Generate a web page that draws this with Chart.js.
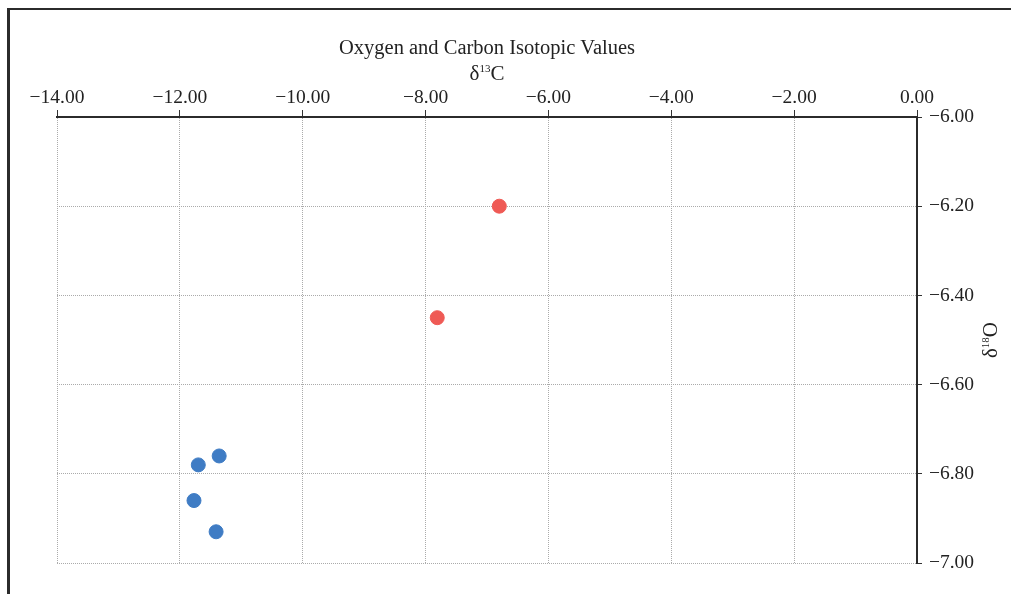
<!DOCTYPE html>
<html>
<head>
<meta charset="utf-8">
<script src="https://cdn.jsdelivr.net/npm/chart.js@4/dist/chart.umd.min.js"></script>
<style>
  html, body { margin: 0; padding: 0; background: #fff; overflow: hidden; }
  #wrap { position: relative; width: 1011px; height: 594px; }
  #frame {
    position: absolute; left: 7px; top: 8px; width: 1100px; height: 700px;
    border-left: 3px solid #2b2b2b; border-top: 2px solid #2b2b2b;
    pointer-events: none;
  }
  canvas { position: absolute; left: 0; top: 0; }
</style>
</head>
<body>
<div id="wrap">
  <canvas id="chart" width="1011" height="594"></canvas>
  <div id="frame"></div>
</div>
<script>
// 데이터
const redX = [-6.80, -7.81];
const redY = [-6.20, -6.45];
const blueX = [-11.36, -11.70, -11.77, -11.41];
const blueY = [-6.76, -6.78, -6.86, -6.93];

const xTicks = [-14, -12, -10, -8, -6, -4, -2, 0];
const yTicks = [-6.0, -6.2, -6.4, -6.6, -6.8, -7.0];

const chartTitle = 'Oxygen and Carbon Isotopic Values';
const serif = "'Liberation Serif', 'DejaVu Serif', serif";

const fmt = (v) => {
  const s = Math.abs(v).toFixed(2);
  return v < -1e-9 ? '\u2212' + s : s;
};

const toPoints = (xs, ys) => xs.map((x, i) => ({ x, y: ys[i] }));

// 축 제목 (위첨자 포함)
function drawSupLabel(ctx, parts, cx, cy, angle) {
  ctx.save();
  ctx.translate(cx, cy);
  ctx.rotate(angle);
  ctx.fillStyle = '#222';
  ctx.textBaseline = 'alphabetic';
  ctx.textAlign = 'left';
  let total = 0;
  parts.forEach((p) => {
    ctx.font = `${p.size}px ${serif}`;
    total += ctx.measureText(p.text).width;
  });
  let x = -total / 2;
  parts.forEach((p) => {
    ctx.font = `${p.size}px ${serif}`;
    ctx.fillText(p.text, x, 7 - (p.rise || 0));
    x += ctx.measureText(p.text).width;
  });
  ctx.restore();
}

const axisTitles = {
  id: 'axisTitles',
  afterDraw(chart) {
    const { ctx, chartArea } = chart;
    const midX = (chartArea.left + chartArea.right) / 2;
    const midY = (chartArea.top + chartArea.bottom) / 2;
    drawSupLabel(ctx, [
      { text: 'δ', size: 21 },
      { text: '13', size: 11, rise: 8 },
      { text: 'C', size: 21 },
    ], midX, chartArea.top - 44, 0);
    drawSupLabel(ctx, [
      { text: 'δ', size: 21 },
      { text: '18', size: 11, rise: 8 },
      { text: 'O', size: 21 },
    ], chartArea.right + 73, midY, -Math.PI / 2);
  },
};

const ctx = document.getElementById('chart').getContext('2d');
new Chart(ctx, {
  type: 'scatter',
  data: {
    datasets: [
      {
        data: toPoints(redX, redY),
        backgroundColor: '#ef5a55',
        borderColor: '#ef5a55',
        pointRadius: 7,
      },
      {
        data: toPoints(blueX, blueY),
        backgroundColor: '#3f7cc4',
        borderColor: '#3f7cc4',
        pointRadius: 7,
      },
    ],
  },
  options: {
    responsive: false,
    animation: false,
    devicePixelRatio: 1,
    layout: { padding: { left: 57, right: 0, top: 0, bottom: 31 } },
    plugins: {
      legend: { display: false },
      tooltip: { enabled: false },
      title: {
        display: true,
        text: chartTitle,
        fullSize: false,
        color: '#222',
        font: { family: serif, size: 20.5, weight: 'normal' },
        padding: { top: 36, bottom: 0 },
      },
    },
    scales: {
      x: {
        type: 'linear',
        position: 'top',
        min: -14,
        max: 0,
        afterBuildTicks: (scale) => {
          scale.ticks = xTicks.map((v) => ({ value: v }));
        },
        afterFit: (scale) => {
          scale.height = 56.4;
        },
        ticks: {
          color: '#222',
          padding: 0,
          font: { family: serif, size: 19.5 },
          callback: (v) => fmt(v),
        },
        grid: {
          color: '#ababab',
          lineWidth: 1,
          tickColor: '#333',
          tickLength: 7,
          tickWidth: 1,
        },
        border: { display: true, color: '#2b2b2b', width: 2, dash: [1, 1] },
      },
      y: {
        type: 'linear',
        position: 'right',
        min: -7,
        max: -6,
        afterBuildTicks: (scale) => {
          scale.ticks = yTicks.map((v) => ({ value: v }));
        },
        afterFit: (scale) => {
          scale.width = 94;
        },
        ticks: {
          color: '#222',
          padding: 7,
          font: { family: serif, size: 19.5 },
          callback: (v) => fmt(v),
        },
        grid: {
          color: '#ababab',
          lineWidth: 1,
          tickColor: '#333',
          tickLength: 5,
          tickWidth: 1,
        },
        border: { display: true, color: '#2b2b2b', width: 2, dash: [1, 1] },
      },
    },
  },
  plugins: [axisTitles],
});
</script>
</body>
</html>
